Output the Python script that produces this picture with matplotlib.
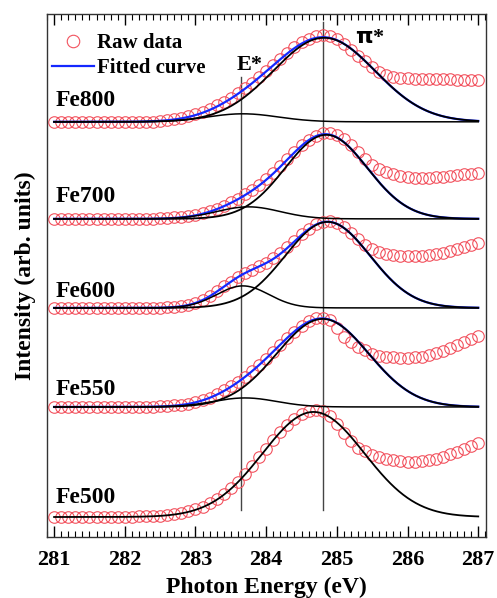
import numpy as np
import matplotlib
matplotlib.use("Agg")
from matplotlib import pyplot as plt
from matplotlib.lines import Line2D
from matplotlib.ticker import MultipleLocator

plt.rcParams['font.family'] = ['Liberation Serif', 'DejaVu Serif']
plt.rcParams['font.weight'] = 'bold'

# photon energy grid of the raw data (eV), 281.0 ... 287.0 in 0.1 steps
energy = np.round(np.arange(281.0, 287.05, 0.1), 1)

samples = ['Fe500', 'Fe550', 'Fe600', 'Fe700', 'Fe800']
offsets = [0.20, 1.30, 2.29, 3.18, 4.15]
label_y = [0.39, 1.47, 2.45, 3.40, 4.36]

flat = [0.0] * 15  # 281.0 - 282.4

raw_fe500 = flat[:12] + [0.005, 0.005, 0.008] + [
    0.012, 0.018, 0.026, 0.038, 0.055,
    0.075, 0.10, 0.135, 0.175, 0.225, 0.285, 0.35, 0.425, 0.51, 0.595,
    0.68, 0.765, 0.845, 0.92, 0.98, 1.03, 1.06, 1.07, 1.055, 1.01,
    0.93, 0.84, 0.76, 0.69, 0.655, 0.62, 0.595, 0.58, 0.565, 0.555,
    0.55, 0.55, 0.555, 0.565, 0.58, 0.60, 0.625, 0.65, 0.68, 0.71,
    0.74]
raw_fe550 = flat + [
    0.005, 0.01, 0.015, 0.02, 0.03,
    0.045, 0.065, 0.09, 0.125, 0.165, 0.205, 0.25, 0.30, 0.355, 0.415,
    0.48, 0.55, 0.62, 0.69, 0.75, 0.81, 0.855, 0.885, 0.89, 0.87,
    0.79, 0.70, 0.645, 0.60, 0.565, 0.53, 0.51, 0.50, 0.495, 0.49,
    0.49, 0.495, 0.50, 0.515, 0.535, 0.56, 0.59, 0.62, 0.65, 0.68,
    0.71]
raw_fe600 = flat + [
    0.0, 0.005, 0.01, 0.02, 0.03,
    0.05, 0.08, 0.12, 0.165, 0.215, 0.26, 0.305, 0.345, 0.38, 0.415,
    0.45, 0.495, 0.545, 0.605, 0.67, 0.735, 0.79, 0.835, 0.86, 0.865,
    0.85, 0.81, 0.75, 0.685, 0.625, 0.585, 0.56, 0.54, 0.53, 0.52,
    0.515, 0.515, 0.52, 0.525, 0.535, 0.55, 0.57, 0.59, 0.61, 0.63,
    0.65]
raw_fe700 = flat + [
    0.005, 0.01, 0.015, 0.02, 0.03,
    0.04, 0.055, 0.075, 0.10, 0.13, 0.165, 0.20, 0.245, 0.29, 0.34,
    0.395, 0.46, 0.53, 0.60, 0.67, 0.735, 0.79, 0.83, 0.855, 0.86,
    0.84, 0.80, 0.74, 0.67, 0.60, 0.54, 0.50, 0.47, 0.445, 0.425,
    0.415, 0.41, 0.41, 0.41, 0.415, 0.42, 0.43, 0.435, 0.445, 0.45,
    0.46]
raw_fe800 = flat + [
    0.01, 0.02, 0.03, 0.04, 0.055,
    0.075, 0.10, 0.13, 0.165, 0.20, 0.24, 0.285, 0.335, 0.39, 0.445,
    0.505, 0.565, 0.63, 0.69, 0.745, 0.795, 0.83, 0.855, 0.865, 0.86,
    0.83, 0.78, 0.72, 0.66, 0.605, 0.55, 0.50, 0.47, 0.45, 0.44,
    0.435, 0.43, 0.43, 0.43, 0.43, 0.425, 0.425, 0.42, 0.42, 0.415,
    0.415]
raw = [raw_fe500, raw_fe550, raw_fe600, raw_fe700, raw_fe800]

# Gaussian fit components: (center eV, sigma eV, height)
pi_peak = [(284.67, 0.72, 1.05), (284.80, 0.65, 0.88), (284.87, 0.60, 0.86),
           (284.85, 0.58, 0.84), (284.82, 0.72, 0.84)]
e_peak = [None, (283.70, 0.45, 0.09), (283.67, 0.37, 0.22),
          (283.75, 0.45, 0.12), (283.67, 0.50, 0.08)]

e_star_pos = 283.65
pi_star_pos = 284.80


def gauss(x, c, s, a):
    return a * np.exp(-(x - c) ** 2 / (2 * s ** 2))


fig = plt.figure(figsize=(4.97, 5.98), dpi=100)
ax = fig.add_axes([0.0946, 0.102, 0.8833, 0.875])

xf = np.linspace(281.0, 287.0, 600)
red = '#f2525e'
for i, name in enumerate(samples):
    off = offsets[i]
    ax.plot(energy, np.array(raw[i]) + off, 'o', ms=8.3, mfc='none',
            mec=red, mew=0.8, zorder=2)
    main = gauss(xf, *pi_peak[i])
    if e_peak[i] is not None:
        shoulder = gauss(xf, *e_peak[i])
        ax.plot(xf, main + shoulder + off, color='#1428ff', lw=1.6, zorder=3)
        ax.plot(xf, shoulder + off, color='black', lw=1.1, zorder=4)
    ax.plot(xf, main + off, color='black', lw=1.3, zorder=4)
    ax.text(281.02, label_y[i], name, fontsize=17, fontweight='bold',
            va='center', ha='left')

ax.plot([e_star_pos, e_star_pos], [0.27, 4.60], color='#444444', lw=1.0, zorder=1)
ax.plot([pi_star_pos, pi_star_pos], [0.27, 5.15], color='#444444', lw=1.0, zorder=1)
ax.text(283.77, 4.72, 'E*', fontsize=16, ha='center', va='center')
ax.text(285.47, 4.99, r'$\mathbf{\pi}$*', fontsize=16, ha='center', va='center')

ax.set_xlim(280.90, 287.11)
ax.set_ylim(0, 5.23)
ax.xaxis.set_major_locator(MultipleLocator(1))
ax.xaxis.set_minor_locator(MultipleLocator(0.1))
ax.tick_params(axis='x', which='both', direction='in', top=True, labelsize=16)
ax.tick_params(axis='x', which='major', length=8, width=1, pad=9)
ax.tick_params(axis='x', which='minor', length=4, width=0.8)
ax.set_yticks([])
for sp in ax.spines.values():
    sp.set_linewidth(1.0)
    sp.set_color('#333333')

ax.set_xlabel('Photon Energy (eV)', fontsize=17, fontweight='bold', labelpad=5)
ax.set_ylabel('Intensity (arb. units)', fontsize=17, fontweight='bold', labelpad=8)

handles = [Line2D([], [], ls='none', marker='o', ms=9, mfc='none', mec=red, mew=0.8),
           Line2D([], [], color='#1428ff', lw=1.6)]
ax.legend(handles, ['Raw data', 'Fitted curve'], loc='upper left',
          bbox_to_anchor=(0.012, 0.963), frameon=False, fontsize=15,
          handlelength=2.0, handletextpad=0.15, labelspacing=0.25,
          borderaxespad=0, borderpad=0, numpoints=1)

fig.savefig('out.png', dpi=100)
